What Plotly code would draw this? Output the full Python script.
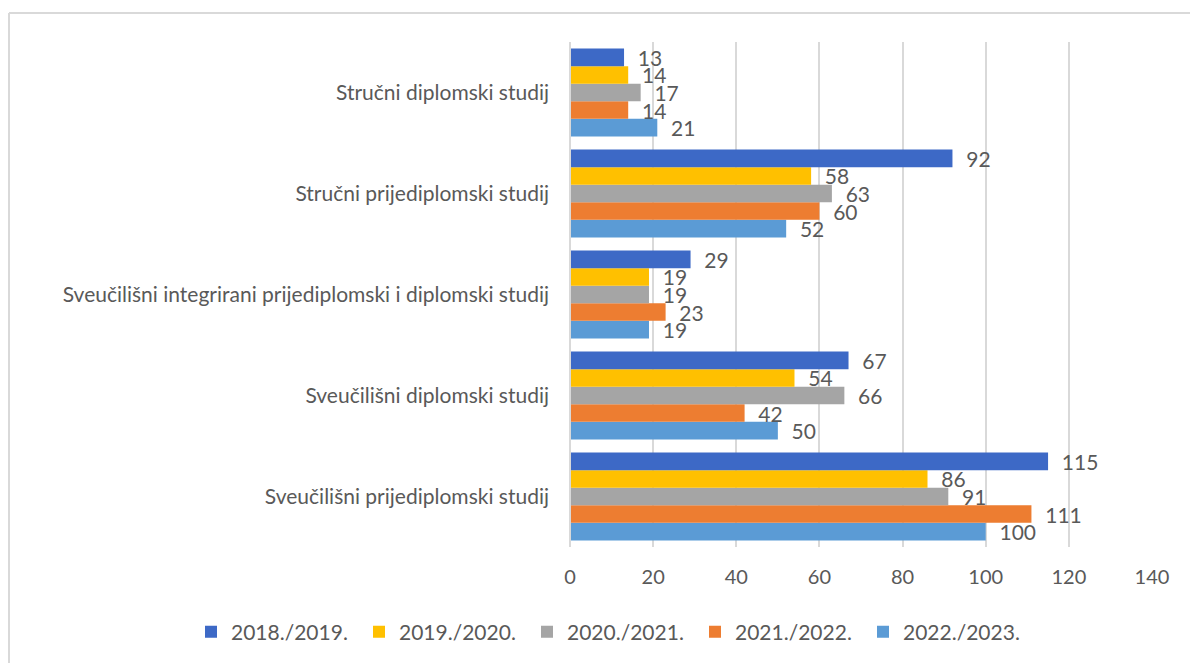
import plotly.graph_objects as go

categories = [
    "Sveučilišni prijediplomski studij",
    "Sveučilišni diplomski studij",
    "Sveučilišni integrirani prijediplomski i diplomski studij",
    "Stručni prijediplomski studij",
    "Stručni diplomski studij",
]
series_names = ["2018./2019.", "2019./2020.", "2020./2021.", "2021./2022.", "2022./2023."]
values = {
    "2018./2019.": [115, 67, 29, 92, 13],
    "2019./2020.": [86, 54, 19, 58, 14],
    "2020./2021.": [91, 66, 19, 63, 17],
    "2021./2022.": [111, 42, 23, 60, 14],
    "2022./2023.": [100, 50, 19, 52, 21],
}
colors = {
    "2018./2019.": "#3D69C6",
    "2019./2020.": "#FFC000",
    "2020./2021.": "#A5A5A5",
    "2021./2022.": "#ED7D31",
    "2022./2023.": "#5B9BD5",
}
x_ticks = [0, 20, 40, 60, 80, 100, 120, 140]

FONT = "Lato, Carlito, sans-serif"
TXT = "#595959"

fig = go.Figure()
for name in reversed(series_names):
    fig.add_trace(go.Bar(
        y=categories, x=values[name], name=name, orientation="h",
        marker=dict(color=colors[name], line=dict(width=0)),
        text=values[name], texttemplate="\u00a0\u00a0%{text}",
        textposition="outside", constraintext="none",
        textfont=dict(family=FONT, size=21, color=TXT),
        cliponaxis=False,
    ))

# page body has an 8px margin: figure coords = screen coords - 8
OFF = 8
W, H = 1198, 663
L = 570 - OFF
R = W - (1152 - OFF)
T = 42 - OFF
B = H - (547 - OFF)
pw = W - L - R
ph = H - T - B

def px_x(p):
    return (p - OFF - L) / pw

def px_y(p):
    return (H - B - (p - OFF)) / ph

fig.update_layout(
    width=W, height=H,
    barmode="group", bargap=0.13, bargroupgap=0.0,
    plot_bgcolor="white", paper_bgcolor="white",
    margin=dict(l=L, r=R, t=T, b=B, pad=0, autoexpand=False),
    font=dict(family=FONT, size=21, color=TXT),
    legend=dict(orientation="h", traceorder="reversed", x=px_x(191), xanchor="left",
                y=px_y(632), yanchor="middle", font=dict(size=21, color=TXT),
                entrywidth=123, entrywidthmode="pixels", itemwidth=30,
                bgcolor="rgba(0,0,0,0)"),
    xaxis=dict(range=[0, 140], tickvals=x_ticks, showgrid=True, gridcolor="#D9D9D9",
               gridwidth=2, zeroline=False, showline=False, ticks="", automargin=False,
               tickfont=dict(size=20, color=TXT), ticklabelstandoff=16),
    yaxis=dict(showgrid=False, showline=False, ticks="", ticklabelstandoff=20, automargin=False,
               tickfont=dict(size=21, color=TXT)),
    shapes=[
        dict(type="line", xref="paper", yref="paper", x0=px_x(9), x1=px_x(9),
             y0=px_y(13), y1=px_y(700), line=dict(color="#D9D9D9", width=2)),
        dict(type="line", xref="paper", yref="paper", x0=px_x(9), x1=px_x(1250),
             y0=px_y(13), y1=px_y(13), line=dict(color="#D9D9D9", width=2)),
        dict(type="line", xref="paper", yref="paper", x0=0, x1=0,
             y0=0, y1=1, line=dict(color="#D9D9D9", width=2)),
    ],
)

fig.write_html("out.html")
